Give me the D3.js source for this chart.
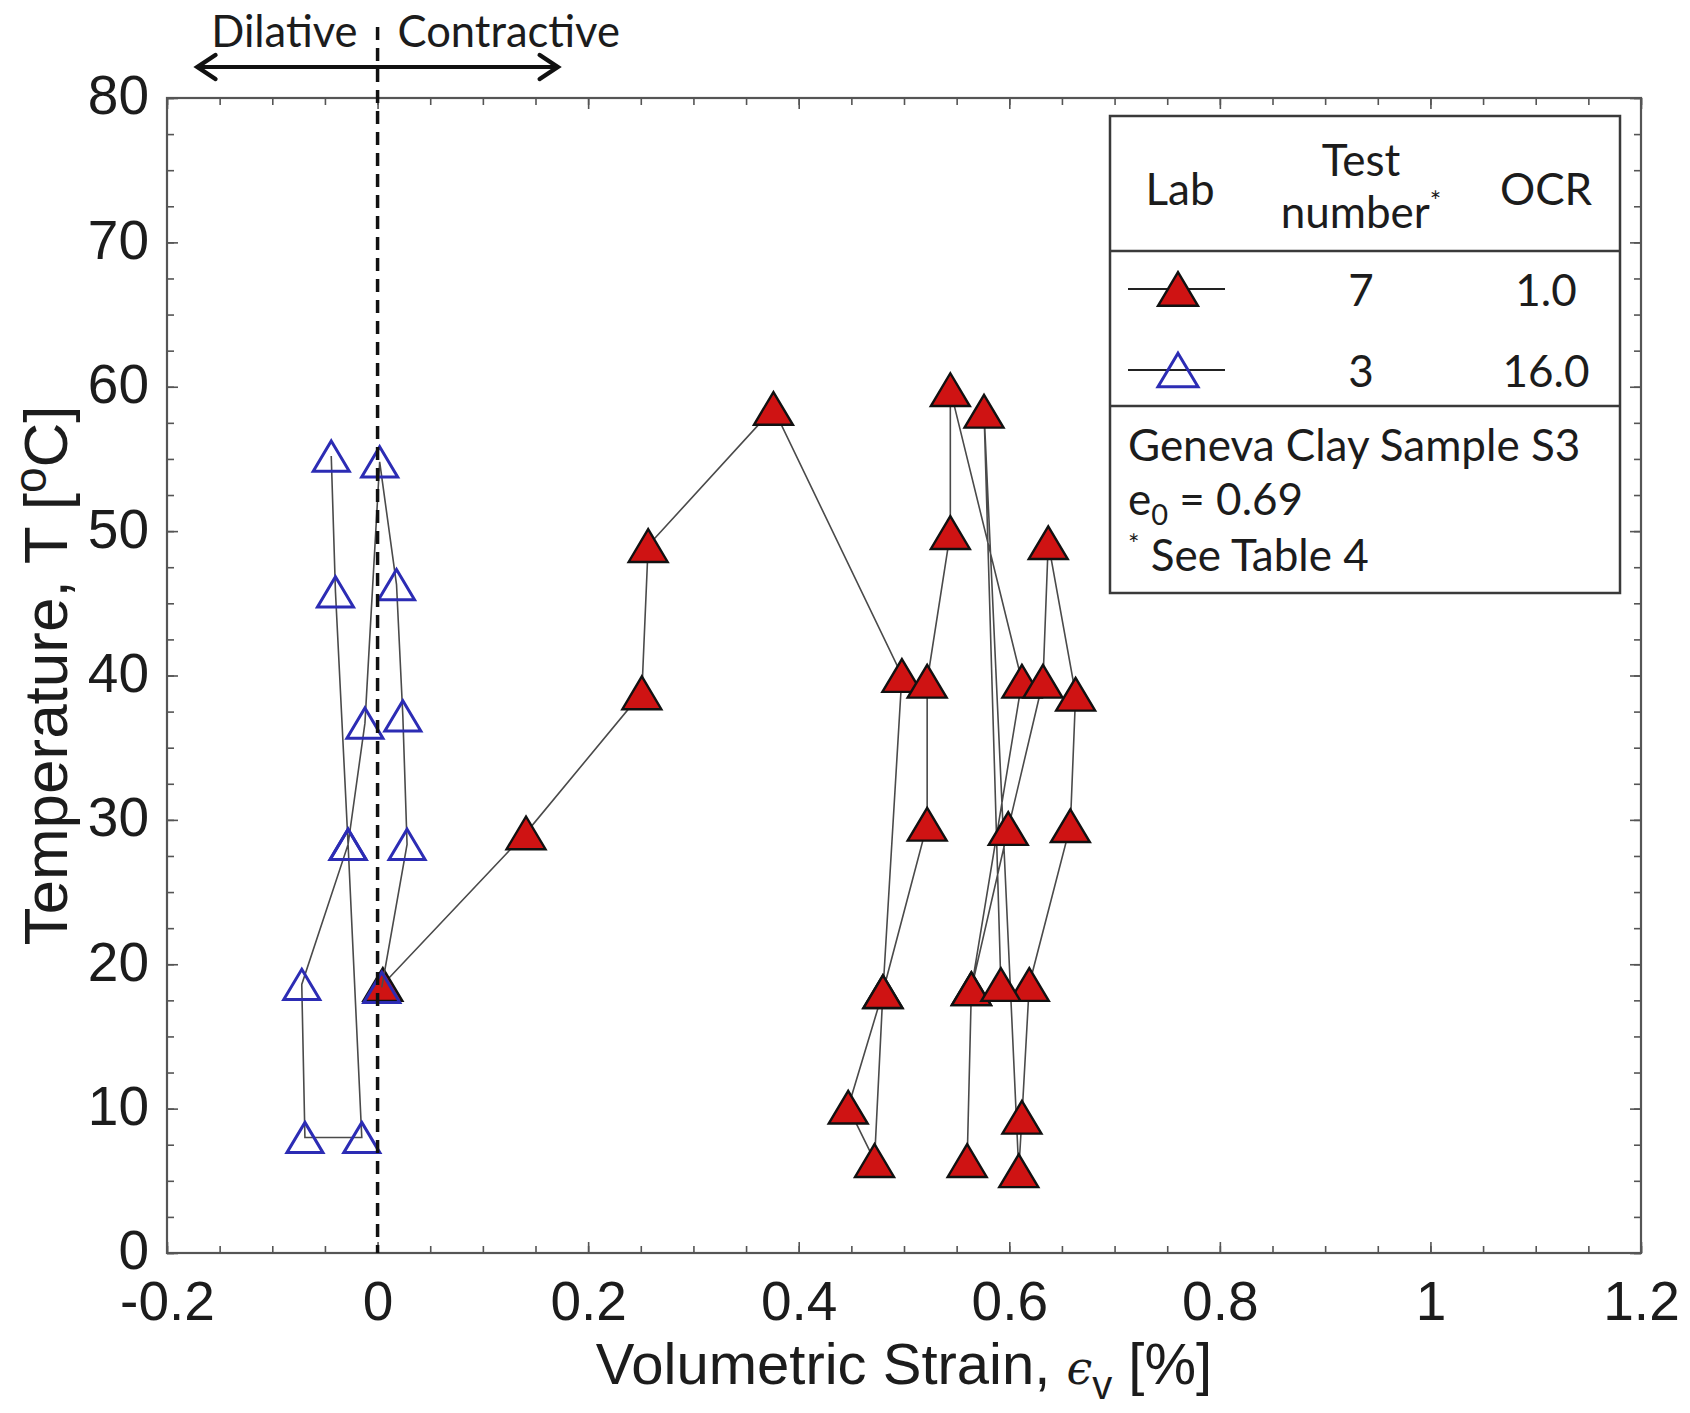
<!DOCTYPE html>
<html><head><meta charset="utf-8">
<script src="https://cdn.jsdelivr.net/npm/d3@7"></script>
<style>body{margin:0;background:#fff} svg{display:block}</style>
</head><body>
<svg id="chart" width="1690" height="1413"></svg>
<script>
// ---- data ----
const xMajorTicks = [-0.2, 0, 0.2, 0.4, 0.6, 0.8, 1, 1.2];
const yMajorTicks = [0, 10, 20, 30, 40, 50, 60, 70, 80];
// Test 3 (OCR 16.0), path order
const test3Strain = [0.004, 0.028, 0.024, 0.018, 0.002, -0.012, -0.028, -0.072, -0.069, -0.015, -0.028, -0.040, -0.044];
const test3Temp   = [18.4, 28.3, 37.2, 46.3, 54.8, 36.7, 28.3, 18.6, 8.0, 8.0, 28.3, 45.8, 55.2];
// Test 7 (OCR 1.0), path order
const test7Strain = [0.005, 0.141, 0.251, 0.257, 0.376, 0.498, 0.480, 0.447, 0.472, 0.480, 0.522, 0.522, 0.544, 0.544, 0.612, 0.564, 0.560, 0.564, 0.599, 0.632, 0.637, 0.663, 0.658, 0.619, 0.612, 0.609, 0.576, 0.592];
const test7Temp   = [18.6, 29.1, 38.8, 49.0, 58.5, 40.0, 18.1, 10.1, 6.4, 18.1, 29.7, 39.6, 49.9, 59.8, 39.6, 18.3, 6.4, 18.3, 29.4, 39.6, 49.2, 38.7, 29.6, 18.6, 9.4, 5.7, 58.3, 18.6];
const legendRows = [{test: "7", ocr: "1.0"}, {test: "3", ocr: "16.0"}];

// ---- layout ----
const svg = d3.select("#chart");
const M = {left: 167, right: 1641, top: 98, bottom: 1253};
const x = d3.scaleLinear().domain([-0.2, 1.2]).range([M.left, M.right]);
const y = d3.scaleLinear().domain([0, 80]).range([M.bottom, M.top]);
const AX = "Liberation Sans, Arial, Helvetica, sans-serif";
const LG = "Lato, 'Open Sans', sans-serif";
const axisCol = "#555";
const textCol = "#1c1c1c";

const xMinor = d3.range(-0.2, 1.2001, 0.05).map(v => +v.toFixed(2));
const yMinor = d3.range(0, 80.01, 2.5);
const fmt = d => String(+(+d).toFixed(2));

function styleAxis(g) {
  g.select(".domain").remove();
  g.selectAll(".tick line").attr("stroke", axisCol).attr("stroke-width", 1.6);
  g.selectAll("text").attr("fill", textCol).attr("font-family", AX).attr("font-size", 55);
}
// minor ticks
svg.append("g").attr("transform", `translate(0,${M.bottom})`)
  .call(d3.axisBottom(x).tickValues(xMinor).tickSizeInner(-7).tickSizeOuter(0).tickFormat("")).call(styleAxis);
svg.append("g").attr("transform", `translate(0,${M.top})`)
  .call(d3.axisTop(x).tickValues(xMinor).tickSizeInner(-7).tickSizeOuter(0).tickFormat("")).call(styleAxis);
svg.append("g").attr("transform", `translate(${M.left},0)`)
  .call(d3.axisLeft(y).tickValues(yMinor).tickSizeInner(-7).tickSizeOuter(0).tickFormat("")).call(styleAxis);
svg.append("g").attr("transform", `translate(${M.right},0)`)
  .call(d3.axisRight(y).tickValues(yMinor).tickSizeInner(-7).tickSizeOuter(0).tickFormat("")).call(styleAxis);
// major ticks + labels
svg.append("g").attr("transform", `translate(0,${M.bottom})`)
  .call(d3.axisBottom(x).tickValues(xMajorTicks).tickSizeInner(-11).tickSizeOuter(0).tickPadding(28).tickFormat(fmt)).call(styleAxis);
svg.append("g").attr("transform", `translate(0,${M.top})`)
  .call(d3.axisTop(x).tickValues(xMajorTicks).tickSizeInner(-11).tickSizeOuter(0).tickFormat("")).call(styleAxis);
const yAx = svg.append("g").attr("transform", `translate(${M.left},0)`)
  .call(d3.axisLeft(y).tickValues(yMajorTicks).tickSizeInner(-11).tickSizeOuter(0).tickPadding(18).tickFormat(fmt)).call(styleAxis);
yAx.selectAll("text").attr("dy", "0.29em");
svg.append("g").attr("transform", `translate(${M.right},0)`)
  .call(d3.axisRight(y).tickValues(yMajorTicks).tickSizeInner(-11).tickSizeOuter(0).tickFormat("")).call(styleAxis);

// frame
svg.append("rect").attr("x", M.left).attr("y", M.top)
  .attr("width", M.right - M.left).attr("height", M.bottom - M.top)
  .attr("fill", "none").attr("stroke", axisCol).attr("stroke-width", 2.2);

// ---- series ----
const tri = (cx, cy, s) => {
  const h = s * 0.84;
  return `M${cx},${cy - h / 2}L${cx + s / 2},${cy + h / 2}L${cx - s / 2},${cy + h / 2}Z`;
};
const line = d3.line().x(d => x(d[0])).y(d => y(d[1]));
const s7 = test7Strain.map((v, i) => [v, test7Temp[i]]);
const s3 = test3Strain.map((v, i) => [v, test3Temp[i]]);

svg.append("path").datum(s7).attr("d", line).attr("fill", "none").attr("stroke", "#4a4a4a").attr("stroke-width", 1.6);
svg.append("g").selectAll("path").data(s7).join("path")
  .attr("d", d => tri(x(d[0]), y(d[1]), 39))
  .attr("fill", "#cf1313").attr("stroke", "#111").attr("stroke-width", 2.4).attr("stroke-linejoin", "miter");

svg.append("path").datum(s3).attr("d", line).attr("fill", "none").attr("stroke", "#4a4a4a").attr("stroke-width", 1.6);
svg.append("g").selectAll("path").data(s3).join("path")
  .attr("d", d => tri(x(d[0]), y(d[1]), 36))
  .attr("fill", "none").attr("stroke", "#2c2cb4").attr("stroke-width", 3);

// dashed zero line
svg.append("line").attr("x1", x(0)).attr("x2", x(0)).attr("y1", 27).attr("y2", y(0))
  .attr("stroke", "#111").attr("stroke-width", 3.5).attr("stroke-dasharray", "13,8");

// ---- dilative / contractive annotation ----
const ay = 67;
const xl = x(-0.173), xr = x(0.173);
svg.append("line").attr("x1", xl + 2).attr("x2", xr - 2).attr("y1", ay).attr("y2", ay)
  .attr("stroke", "#111").attr("stroke-width", 4);
svg.append("path").attr("d", `M${xl + 20},${ay - 12}L${xl + 2},${ay}L${xl + 20},${ay + 12}`)
  .attr("fill", "none").attr("stroke", "#111").attr("stroke-width", 4.5).attr("stroke-linecap", "round");
svg.append("path").attr("d", `M${xr - 20},${ay - 12}L${xr - 2},${ay}L${xr - 20},${ay + 12}`)
  .attr("fill", "none").attr("stroke", "#111").attr("stroke-width", 4.5).attr("stroke-linecap", "round");
svg.append("text").attr("x", x(0) - 20).attr("y", 47).attr("text-anchor", "end")
  .attr("font-family", LG).attr("font-size", 43.5).attr("fill", textCol).text("Dilative");
svg.append("text").attr("x", x(0) + 20).attr("y", 47).attr("text-anchor", "start")
  .attr("font-family", LG).attr("font-size", 43.5).attr("fill", textCol).text("Contractive");

// ---- axis titles ----
const xt = svg.append("text").attr("x", (M.left + M.right) / 2).attr("y", 1384)
  .attr("text-anchor", "middle").attr("font-family", AX).attr("font-size", 58).attr("fill", textCol);
xt.append("tspan").text("Volumetric Strain, ");
xt.append("tspan").attr("font-family", "DejaVu Serif, serif").attr("font-style", "italic").attr("font-size", 46).text("\u03F5");
xt.append("tspan").attr("font-size", 40).attr("dy", 15).text("v");
xt.append("tspan").attr("dy", -15).text(" [%]");

const yt = svg.append("text").attr("transform", `translate(67,${(M.top + M.bottom) / 2}) rotate(-90)`)
  .attr("text-anchor", "middle").attr("font-family", AX).attr("font-size", 62).attr("fill", textCol);
yt.append("tspan").text("Temperature, T [");
yt.append("tspan").attr("font-size", 46).attr("dy", -21).text("o");
yt.append("tspan").attr("dy", 21).text("C]");

// ---- legend ----
const L = {x0: 1110, x1: 1620, y0: 116, y1: 593, d1: 251, d2: 406};
const lg = svg.append("g");
lg.append("rect").attr("x", L.x0).attr("y", L.y0).attr("width", L.x1 - L.x0).attr("height", L.y1 - L.y0)
  .attr("fill", "#fff").attr("stroke", "#3a3a3a").attr("stroke-width", 2.5);
lg.append("line").attr("x1", L.x0).attr("x2", L.x1).attr("y1", L.d1).attr("y2", L.d1).attr("stroke", "#3a3a3a").attr("stroke-width", 2.5);
lg.append("line").attr("x1", L.x0).attr("x2", L.x1).attr("y1", L.d2).attr("y2", L.d2).attr("stroke", "#3a3a3a").attr("stroke-width", 2.5);
const lt = (xx, yy, str, anchor = "middle") => lg.append("text").attr("x", xx).attr("y", yy)
  .attr("text-anchor", anchor).attr("font-family", LG).attr("font-size", 44).attr("fill", textCol).text(str);
const colLab = 1180, colTest = 1361, colOcr = 1546;
lt(colLab, 205, "Lab");
lt(colTest, 176, "Test");
const nb = lt(colTest, 228, "number");
nb.append("tspan").attr("font-size", 27).attr("dy", -17).text("*");
lt(colOcr, 205, "OCR");
const rowY = [289, 370];
legendRows.forEach((r, i) => {
  lt(colTest, rowY[i] + 17, r.test);
  lt(colOcr, rowY[i] + 17, r.ocr);
  lg.append("line").attr("x1", 1128).attr("x2", 1225).attr("y1", rowY[i]).attr("y2", rowY[i])
    .attr("stroke", "#222").attr("stroke-width", 2);
  const p = lg.append("path").attr("d", tri(colLab - 2, rowY[i], 40));
  if (i === 0) p.attr("fill", "#cf1313").attr("stroke", "#111").attr("stroke-width", 2.4);
  else p.attr("fill", "none").attr("stroke", "#2c2cb4").attr("stroke-width", 3);
});
lt(1128, 461, "Geneva Clay Sample S3", "start");
const e0 = lt(1128, 515, "e", "start");
e0.append("tspan").attr("font-size", 29).attr("dy", 10).text("0");
e0.append("tspan").attr("dy", -10).text(" = 0.69");
const st = lt(1128, 571, "", "start");
st.append("tspan").attr("font-size", 27).attr("dy", -17).text("*");
st.append("tspan").attr("dy", 17).text(" See Table 4");
</script>
</body></html>
